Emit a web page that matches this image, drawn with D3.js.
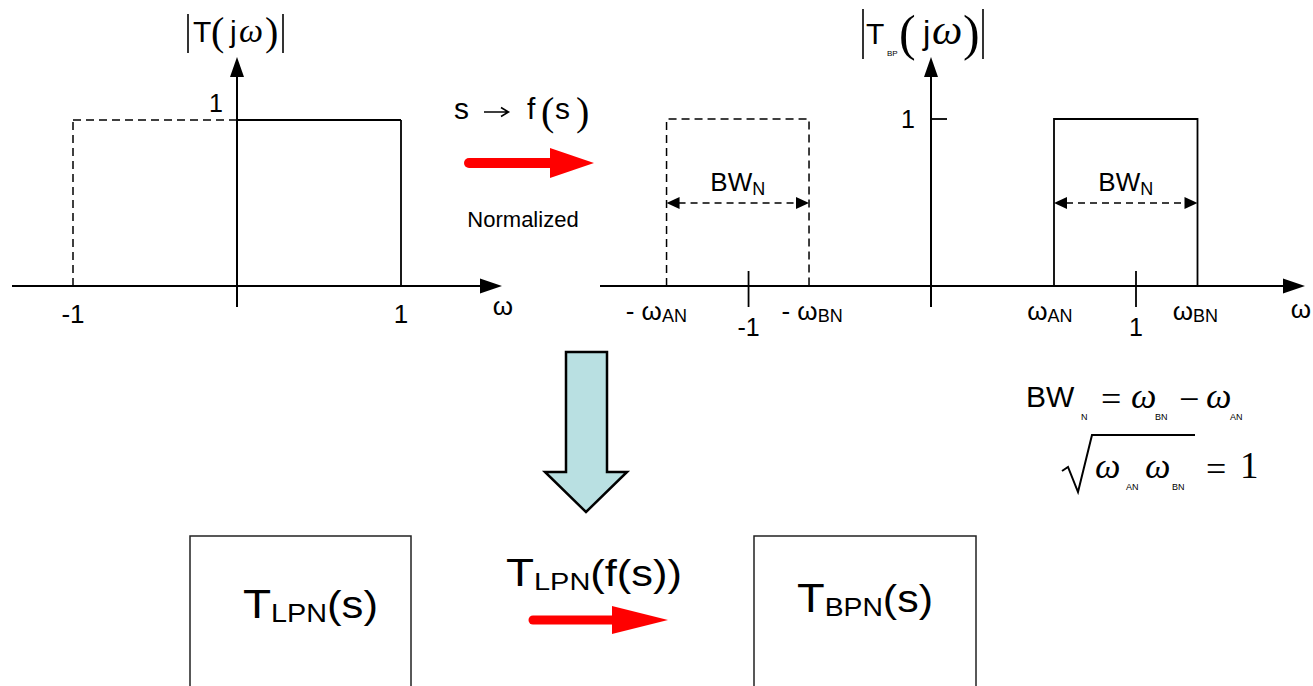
<!DOCTYPE html>
<html lang="en">
<head>
<meta charset="UTF-8">
<title>Lowpass to bandpass transformation</title>
<script src="https://d3js.org/d3.v7.min.js"></script>
<style>
  body { margin: 0; background: #fff; }
  text { font-family: "Liberation Sans", Arial, sans-serif; fill: #000; }
  .serif { font-family: "Liberation Serif", "Times New Roman", serif; }
</style>
</head>
<body>
<svg id="fig" width="1313" height="686"></svg>
<script>
// ---- data ----
// normalized lowpass: passband edges and gain
const lpBand = [-1, 1];
const lpTicks = [-1, 1];
const lpGain = 1;
// normalized bandpass: band edges (in units of the "1" tick), axis ticks
const bpNegBand = [-1.29, -0.595];
const bpPosBand = [0.60, 1.30];
const bpTicks = [-0.89, 1];
const bpGain = 1;
const bpEdgeLabels = [
  { v: -1.34, main: "- \u03c9", sub: "AN" },
  { v: -0.58, main: "- \u03c9", sub: "BN" },
  { v: 0.58, main: "\u03c9", sub: "AN" },
  { v: 1.29, main: "\u03c9", sub: "BN" }
];

const svg = d3.select("#fig");

// scales for the two spectra
const xL = d3.scaleLinear().domain([-1, 1]).range([73, 401]);
const yL = d3.scaleLinear().domain([0, 1]).range([286, 120]);
const xR = d3.scaleLinear().domain([0, 1]).range([931, 1136]);
const yR = d3.scaleLinear().domain([0, 1]).range([286, 119]);

// little helper for text with subscripts
function rich(x, y, parts, anchor, len) {
  const t = svg.append("text").attr("x", x).attr("y", y)
    .attr("text-anchor", anchor || "start");
  if (len) t.attr("textLength", len).attr("lengthAdjust", "spacingAndGlyphs");
  let cur = 0;
  parts.forEach(function(p) {
    const s = t.append("tspan").text(p.t).attr("dy", (p.dy || 0) - cur);
    cur = p.dy || 0;
    if (p.size) s.attr("font-size", p.size);
    if (p.serif) s.attr("class", "serif");
    if (p.italic) s.attr("font-style", "italic");
  });
  return t;
}
function line(x1, y1, x2, y2, w, dash) {
  const l = svg.append("line").attr("x1", x1).attr("y1", y1).attr("x2", x2).attr("y2", y2)
    .attr("stroke", "#000").attr("stroke-width", w);
  if (dash) l.attr("stroke-dasharray", dash);
  return l;
}
function tri(pts, fill) {
  svg.append("polygon").attr("points", pts.map(p => p.join(",")).join(" ")).attr("fill", fill || "#000");
}
function txt(x, y, size, s, cls, italic) {
  const t = svg.append("text").attr("x", x).attr("y", y).attr("font-size", size).text(s);
  if (cls) t.attr("class", cls);
  if (italic) t.attr("font-style", "italic");
  return t;
}
// axis with arrowhead
function hAxis(x0, x1, y) {
  line(x0, y, x1 - 20, y, 2);
  tri([[x1 - 22, y - 7.5], [x1, y], [x1 - 22, y + 7.5]]);
}
function vAxis(x, y0, y1) {
  line(x, y0, x, y1 + 20, 2);
  tri([[x - 7, y1 + 20], [x, y1], [x + 7, y1 + 20]]);
}
function bwArrow(xa, xb, y) {
  line(xa + 12, y, xb - 12, y, 1.6, "7,5");
  tri([[xa + 13, y - 6], [xa, y], [xa + 13, y + 6]]);
  tri([[xb - 13, y - 6], [xb, y], [xb - 13, y + 6]]);
}

// ---------- left plot: |T(jw)| ----------
hAxis(12, 502, yL(0));
vAxis(xL(0), 307, 57);
// dashed negative half, solid positive half
line(xL(lpBand[0]), yL(0), xL(lpBand[0]), yL(lpGain), 1.5, "8,5");
line(xL(lpBand[0]), yL(lpGain), xL(0), yL(lpGain), 1.5, "8,5");
line(xL(0), yL(lpGain), xL(lpBand[1]), yL(lpGain), 1.8);
line(xL(lpBand[1]), yL(lpGain), xL(lpBand[1]), yL(0), 1.8);
lpTicks.forEach(function(v) {
  svg.append("text").attr("x", xL(v)).attr("y", 323).attr("text-anchor", "middle")
    .attr("font-size", 26).text(v < 0 ? "-" + Math.abs(v) : v);
});
svg.append("text").attr("x", xL(0) - 14).attr("y", 112).attr("text-anchor", "end")
  .attr("font-size", 25).text(lpGain);
svg.append("text").attr("x", 503).attr("y", 315).attr("text-anchor", "middle")
  .attr("font-size", 26).text("\u03c9");
// title |T(jw)|
line(188, 14, 188, 53, 1.6); line(283, 14, 283, 53, 1.6);
txt(193, 42, 30, "T");
txt(211, 45, 40, "(", "serif");
txt(230, 42, 30, "j");
txt(239, 42, 34, "\u03c9", "serif", true);
txt(265, 45, 40, ")", "serif");

// ---------- transformation arrow ----------
svg.append("line").attr("x1", 469).attr("y1", 163).attr("x2", 552).attr("y2", 163)
  .attr("stroke", "#ff0000").attr("stroke-width", 10).attr("stroke-linecap", "round");
tri([[550, 148], [594, 163], [550, 178]], "#ff0000");
txt(454, 119, 30, "s");
svg.append("path").attr("fill", "none").attr("stroke", "#000").attr("stroke-width", 1.6)
  .attr("d", "M484,112H508M501,107.5L508.5,112L501,116.5");
txt(527, 119, 30, "f");
txt(541, 125, 40, "(", "serif");
txt(555, 119, 30, "s");
txt(576, 125, 40, ")", "serif");
svg.append("text").attr("x", 523).attr("y", 227).attr("text-anchor", "middle")
  .attr("font-size", 22).text("Normalized");

// ---------- right plot: |T_BP(jw)| ----------
hAxis(600, 1305, yR(0));
vAxis(xR(0), 307, 57);
line(xR(0), yR(bpGain), xR(0) + 16, yR(bpGain), 1.8);
svg.append("text").attr("x", xR(0) - 16).attr("y", 128).attr("text-anchor", "end")
  .attr("font-size", 25).text(bpGain);
// dashed mirror band
const nb = bpNegBand.map(xR);
svg.append("path").attr("fill", "none").attr("stroke", "#000").attr("stroke-width", 1.5)
  .attr("stroke-dasharray", "8,5")
  .attr("d", `M${nb[0]},${yR(0)}V${yR(bpGain)}H${nb[1]}V${yR(0)}`);
// solid band
const pb = bpPosBand.map(xR);
svg.append("path").attr("fill", "none").attr("stroke", "#000").attr("stroke-width", 1.8)
  .attr("d", `M${pb[0]},${yR(0)}V${yR(bpGain)}H${pb[1]}V${yR(0)}`);
// ticks at -1 and 1
bpTicks.forEach(function(v) {
  line(xR(v), 271, xR(v), 307, 1.8);
  svg.append("text").attr("x", xR(v)).attr("y", 336).attr("text-anchor", "middle")
    .attr("font-size", 25).text(v < 0 ? "-1" : "1");
});
bpEdgeLabels.forEach(function(d) {
  rich(xR(d.v), 320, [{ t: d.main, size: 26 }, { t: d.sub, size: 18, dy: 2 }], "middle");
});
svg.append("text").attr("x", 1301).attr("y", 318).attr("text-anchor", "middle")
  .attr("font-size", 26).text("\u03c9");
// bandwidth arrows
[bpNegBand, bpPosBand].forEach(function(b) {
  const xa = xR(b[0]), xb = xR(b[1]);
  bwArrow(xa, xb, 203);
  rich((xa + xb) / 2, 191, [{ t: "BW", size: 26 }, { t: "N", size: 18, dy: 4 }], "middle");
});
// title |T_BP(jw)|
line(863, 9, 863, 59, 1.6); line(983, 9, 983, 59, 1.6);
txt(866, 44, 30, "T");
txt(887, 56, 8, "BP");
txt(899, 50, 50, "(", "serif");
txt(923, 44, 33, "j");
txt(932, 44, 43, "\u03c9", "serif", true);
txt(963, 50, 50, ")", "serif");

// ---------- relations ----------
txt(1026, 407, 30, "BW");
txt(1081, 420, 9, "N");
txt(1101, 411, 36, "=", "serif");
txt(1131, 408, 36, "\u03c9", "serif", true);
txt(1155, 420, 9, "BN");
txt(1179, 411, 36, "\u2212", "serif");
txt(1206, 408, 36, "\u03c9", "serif", true);
txt(1230, 420, 9, "AN");

svg.append("path").attr("fill", "none").attr("stroke", "#000").attr("stroke-width", 2)
  .attr("d", "M1062,471L1068,467L1078,492L1092,435H1195");
txt(1095, 478, 36, "\u03c9", "serif", true);
txt(1126, 490, 9, "AN");
txt(1145, 478, 36, "\u03c9", "serif", true);
txt(1172, 490, 9, "BN");
txt(1206, 481, 36, "=", "serif");
txt(1240, 478, 37, "1", "serif");

// ---------- down arrow ----------
svg.append("polygon")
  .attr("points", "566,352 607,352 607,472 627,472 586,512 545,472 566,472")
  .attr("fill", "#b9e0e2").attr("stroke", "#000").attr("stroke-width", 2.5)
  .attr("stroke-linejoin", "miter");

// ---------- bottom boxes ----------
svg.append("rect").attr("x", 190).attr("y", 536).attr("width", 221).attr("height", 170)
  .attr("fill", "none").attr("stroke", "#222").attr("stroke-width", 1.5);
svg.append("rect").attr("x", 754).attr("y", 536).attr("width", 222).attr("height", 170)
  .attr("fill", "none").attr("stroke", "#222").attr("stroke-width", 1.5);
rich(243, 618, [{ t: "T", size: 40 }, { t: "LPN", size: 25, dy: 4 }, { t: "(s)", size: 38 }], "start", 135);
rich(797, 612, [{ t: "T", size: 40 }, { t: "BPN", size: 25, dy: 4 }, { t: "(s)", size: 38 }], "start", 136);
rich(506, 586, [{ t: "T", size: 38 }, { t: "LPN", size: 24, dy: 4 }, { t: "(f(s))", size: 36 }], "start", 176);
svg.append("line").attr("x1", 533).attr("y1", 620).attr("x2", 614).attr("y2", 620)
  .attr("stroke", "#ff0000").attr("stroke-width", 9).attr("stroke-linecap", "round");
tri([[612, 606], [668, 620], [612, 634]], "#ff0000");
</script>
</body>
</html>
